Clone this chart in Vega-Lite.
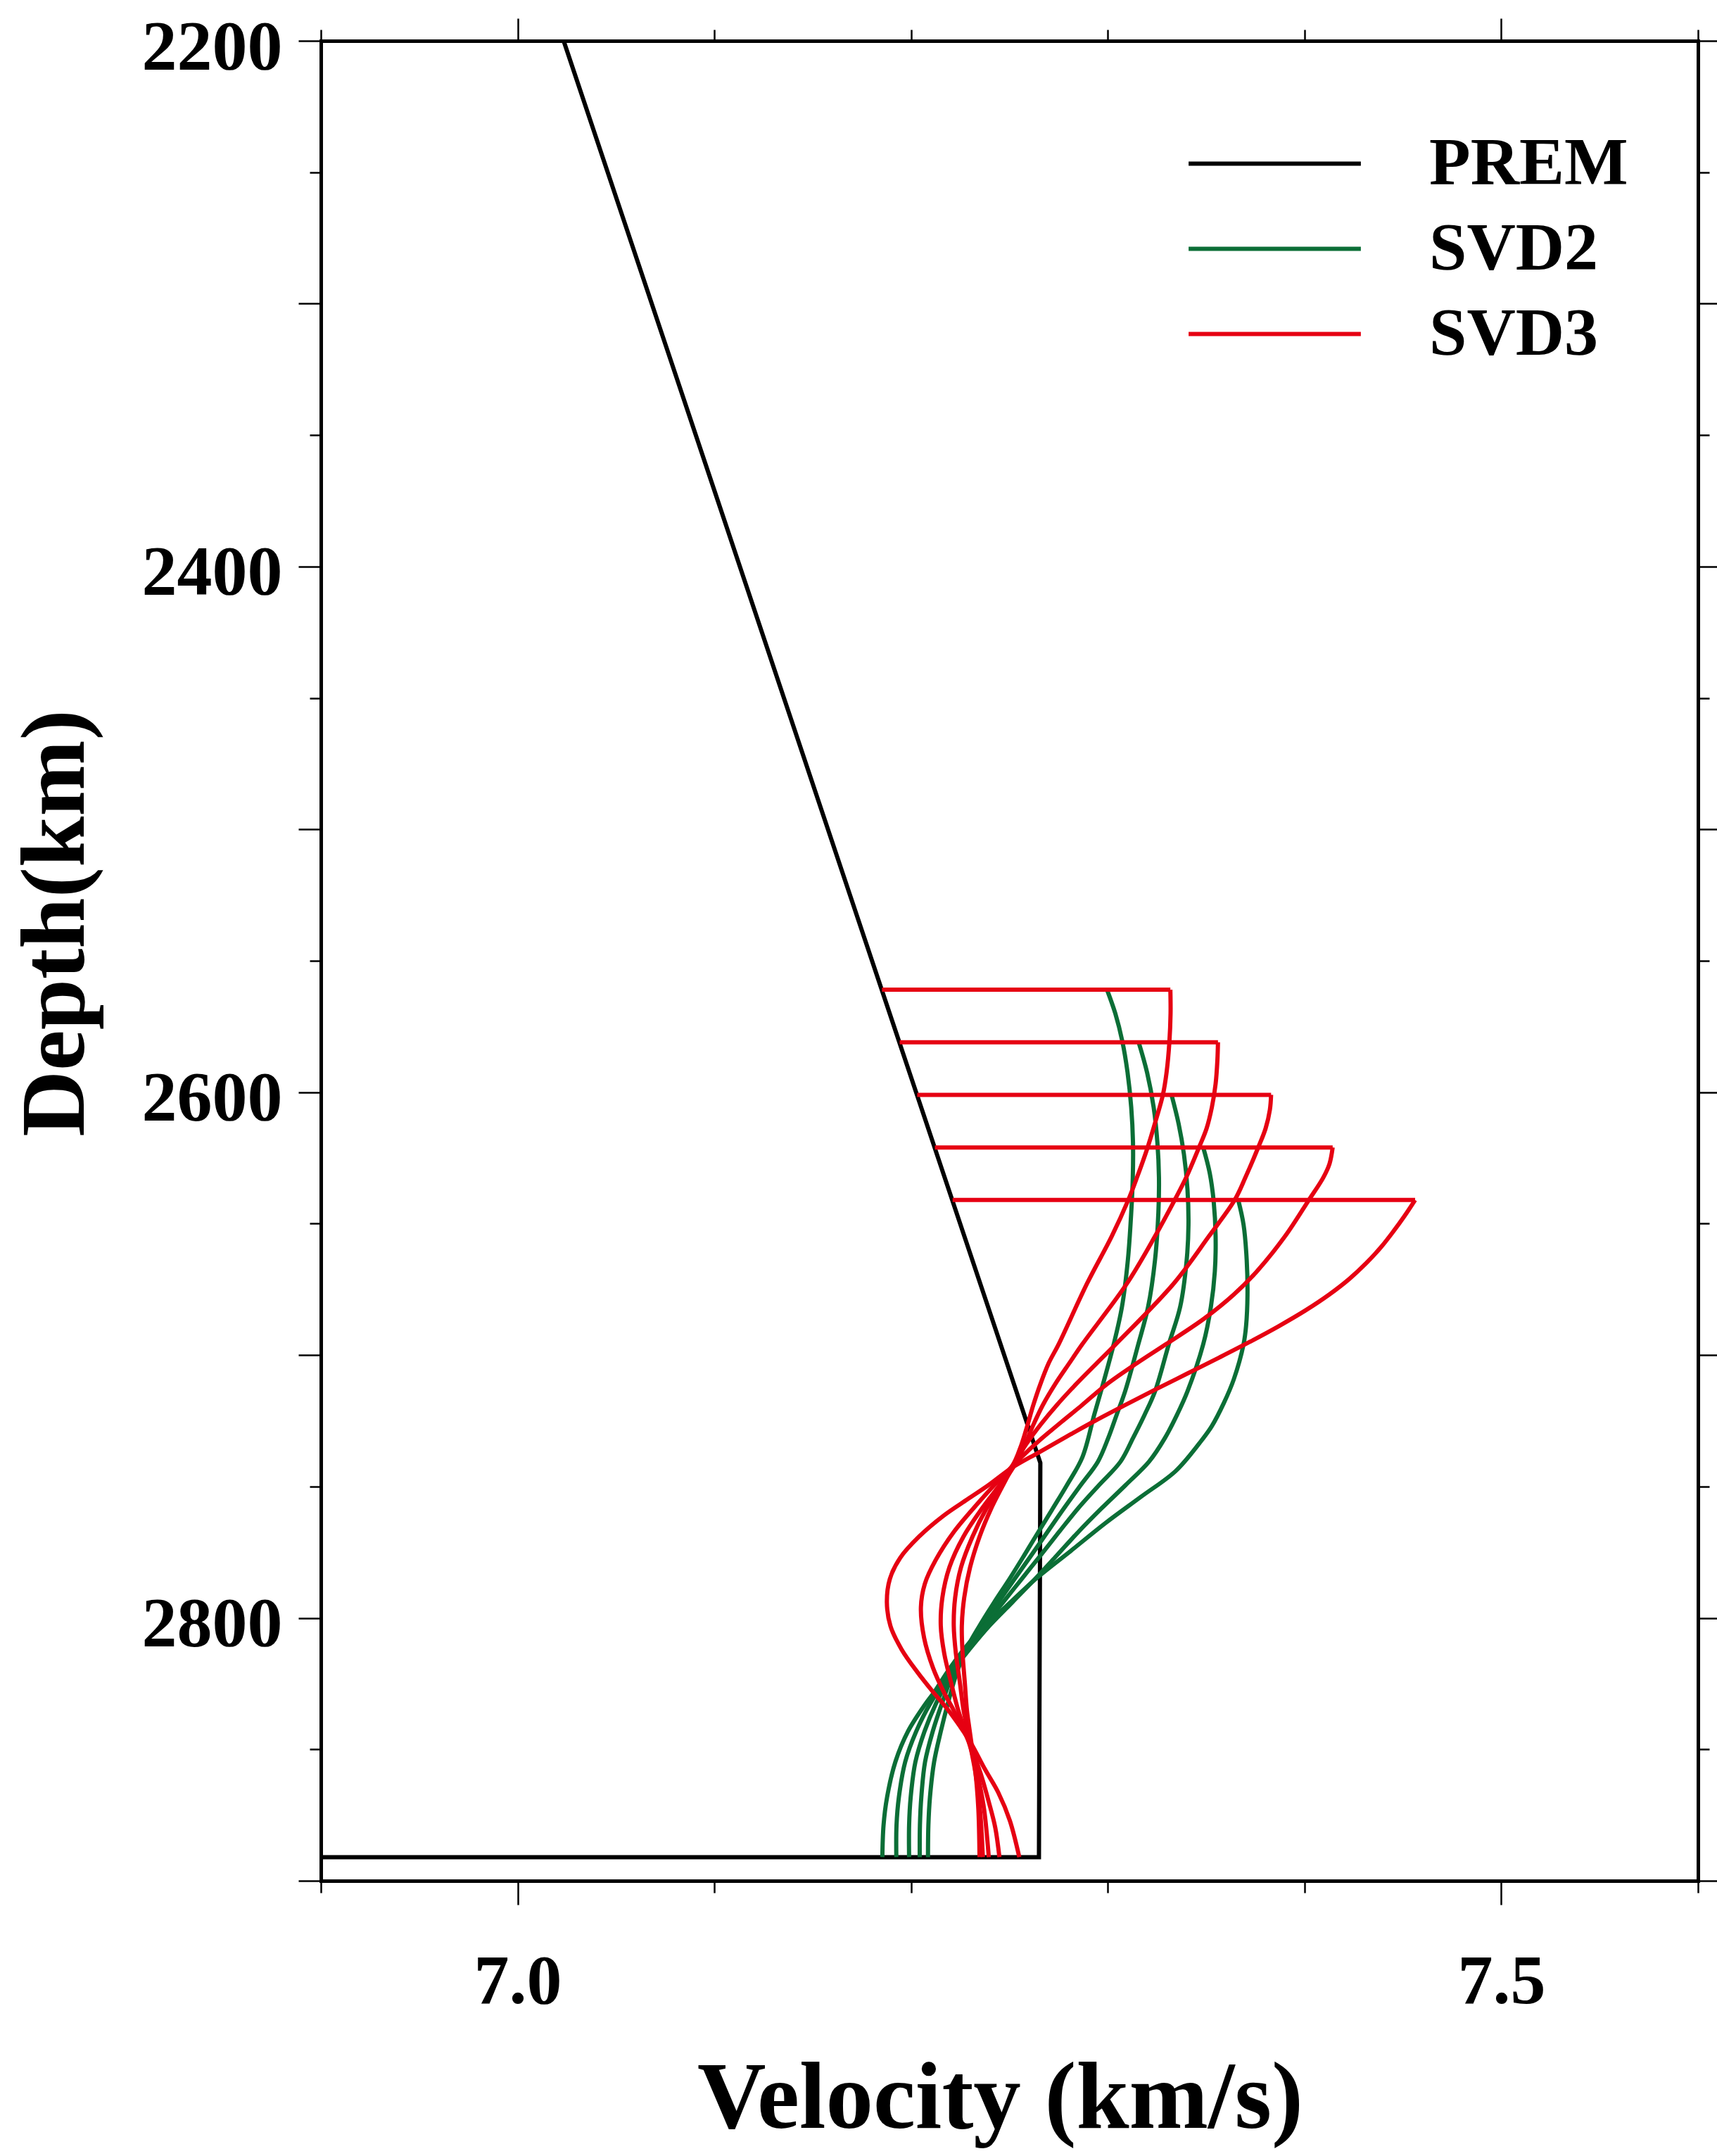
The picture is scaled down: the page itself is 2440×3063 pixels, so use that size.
{
  "$schema": "https://vega.github.io/schema/vega-lite/v6.json",
  "width": 1957,
  "height": 2614,
  "autosize": {"type": "none"},
  "padding": {"left": 456, "top": 58, "right": 27, "bottom": 391},
  "background": "white",
  "config": {
    "view": {"stroke": null},
    "font": "Liberation Serif",
    "line": {"strokeWidth": 6},
    "axis": {
      "grid": false,
      "domainColor": "black",
      "domainWidth": 5,
      "domainCap": "square",
      "tickColor": "black",
      "tickWidth": 2.5,
      "labelFont": "Liberation Serif",
      "labelFontWeight": "bold",
      "labelFontSize": 100,
      "labelColor": "black",
      "labelLimit": 0,
      "titleFont": "Liberation Serif",
      "titleFontWeight": "bold",
      "titleColor": "black",
      "titleLimit": 0,
      "labelOverlap": false,
      "labelFlush": false,
      "labelBound": false
    }
  },
  "data": {
    "values": [
      {"m": "PREM", "c": "p", "i": 0, "v": 7.0234, "d": 2200},
      {"m": "PREM", "c": "p", "i": 1, "v": 7.2657, "d": 2741},
      {"m": "PREM", "c": "p", "i": 2, "v": 7.2650, "d": 2891},
      {"m": "PREM", "c": "p", "i": 3, "v": 6.9, "d": 2891},

      {"m": "SVD2", "c": "g1", "i": 0, "v": 7.2996, "d": 2561},
      {"m": "SVD2", "c": "g1", "i": 1, "v": 7.3038, "d": 2570.0},
      {"m": "SVD2", "c": "g1", "i": 2, "v": 7.3074, "d": 2580.7},
      {"m": "SVD2", "c": "g1", "i": 3, "v": 7.3100, "d": 2592.3},
      {"m": "SVD2", "c": "g1", "i": 4, "v": 7.3119, "d": 2605.7},
      {"m": "SVD2", "c": "g1", "i": 5, "v": 7.3128, "d": 2619.1},
      {"m": "SVD2", "c": "g1", "i": 6, "v": 7.3127, "d": 2632.5},
      {"m": "SVD2", "c": "g1", "i": 7, "v": 7.3119, "d": 2645.9},
      {"m": "SVD2", "c": "g1", "i": 8, "v": 7.3102, "d": 2663.8},
      {"m": "SVD2", "c": "g1", "i": 9, "v": 7.3072, "d": 2681.6},
      {"m": "SVD2", "c": "g1", "i": 10, "v": 7.3030, "d": 2695.9},
      {"m": "SVD2", "c": "g1", "i": 11, "v": 7.2982, "d": 2709.3},
      {"m": "SVD2", "c": "g1", "i": 12, "v": 7.2931, "d": 2722.7},
      {"m": "SVD2", "c": "g1", "i": 13, "v": 7.2871, "d": 2738.8},
      {"m": "SVD2", "c": "g1", "i": 14, "v": 7.2792, "d": 2749.5},
      {"m": "SVD2", "c": "g1", "i": 15, "v": 7.2720, "d": 2758.4},
      {"m": "SVD2", "c": "g1", "i": 16, "v": 7.2647, "d": 2767.3},
      {"m": "SVD2", "c": "g1", "i": 17, "v": 7.2574, "d": 2776.3},
      {"m": "SVD2", "c": "g1", "i": 18, "v": 7.2500, "d": 2785.2},
      {"m": "SVD2", "c": "g1", "i": 19, "v": 7.2422, "d": 2794.1},
      {"m": "SVD2", "c": "g1", "i": 20, "v": 7.2348, "d": 2803.0},
      {"m": "SVD2", "c": "g1", "i": 21, "v": 7.2280, "d": 2812.0},
      {"m": "SVD2", "c": "g1", "i": 22, "v": 7.2232, "d": 2820.9},
      {"m": "SVD2", "c": "g1", "i": 23, "v": 7.2187, "d": 2832.5},
      {"m": "SVD2", "c": "g1", "i": 24, "v": 7.2151, "d": 2843.2},
      {"m": "SVD2", "c": "g1", "i": 25, "v": 7.2117, "d": 2854.8},
      {"m": "SVD2", "c": "g1", "i": 26, "v": 7.2096, "d": 2868.2},
      {"m": "SVD2", "c": "g1", "i": 27, "v": 7.2088, "d": 2878.9},
      {"m": "SVD2", "c": "g1", "i": 28, "v": 7.2086, "d": 2891},

      {"m": "SVD2", "c": "g2", "i": 0, "v": 7.3157, "d": 2581},
      {"m": "SVD2", "c": "g2", "i": 1, "v": 7.3199, "d": 2592.3},
      {"m": "SVD2", "c": "g2", "i": 2, "v": 7.3233, "d": 2605.7},
      {"m": "SVD2", "c": "g2", "i": 3, "v": 7.3252, "d": 2619.1},
      {"m": "SVD2", "c": "g2", "i": 4, "v": 7.3260, "d": 2632.5},
      {"m": "SVD2", "c": "g2", "i": 5, "v": 7.3257, "d": 2645.9},
      {"m": "SVD2", "c": "g2", "i": 6, "v": 7.3240, "d": 2663.8},
      {"m": "SVD2", "c": "g2", "i": 7, "v": 7.3205, "d": 2681.6},
      {"m": "SVD2", "c": "g2", "i": 8, "v": 7.3155, "d": 2695.9},
      {"m": "SVD2", "c": "g2", "i": 9, "v": 7.3088, "d": 2713.8},
      {"m": "SVD2", "c": "g2", "i": 10, "v": 7.3045, "d": 2722.7},
      {"m": "SVD2", "c": "g2", "i": 11, "v": 7.3002, "d": 2731.6},
      {"m": "SVD2", "c": "g2", "i": 12, "v": 7.2950, "d": 2740.5},
      {"m": "SVD2", "c": "g2", "i": 13, "v": 7.2862, "d": 2749.5},
      {"m": "SVD2", "c": "g2", "i": 14, "v": 7.2776, "d": 2758.4},
      {"m": "SVD2", "c": "g2", "i": 15, "v": 7.2693, "d": 2767.3},
      {"m": "SVD2", "c": "g2", "i": 16, "v": 7.2610, "d": 2776.3},
      {"m": "SVD2", "c": "g2", "i": 17, "v": 7.2526, "d": 2785.2},
      {"m": "SVD2", "c": "g2", "i": 18, "v": 7.2443, "d": 2794.1},
      {"m": "SVD2", "c": "g2", "i": 19, "v": 7.2360, "d": 2803.0},
      {"m": "SVD2", "c": "g2", "i": 20, "v": 7.2280, "d": 2812.0},
      {"m": "SVD2", "c": "g2", "i": 21, "v": 7.2220, "d": 2820.0},
      {"m": "SVD2", "c": "g2", "i": 22, "v": 7.2157, "d": 2832.5},
      {"m": "SVD2", "c": "g2", "i": 23, "v": 7.2110, "d": 2843.2},
      {"m": "SVD2", "c": "g2", "i": 24, "v": 7.2071, "d": 2854.8},
      {"m": "SVD2", "c": "g2", "i": 25, "v": 7.2052, "d": 2868.2},
      {"m": "SVD2", "c": "g2", "i": 26, "v": 7.2045, "d": 2878.9},
      {"m": "SVD2", "c": "g2", "i": 27, "v": 7.2044, "d": 2891},

      {"m": "SVD2", "c": "g3", "i": 0, "v": 7.3324, "d": 2601},
      {"m": "SVD2", "c": "g3", "i": 1, "v": 7.3360, "d": 2612.0},
      {"m": "SVD2", "c": "g3", "i": 2, "v": 7.3387, "d": 2623.6},
      {"m": "SVD2", "c": "g3", "i": 3, "v": 7.3405, "d": 2637.0},
      {"m": "SVD2", "c": "g3", "i": 4, "v": 7.3410, "d": 2650.4},
      {"m": "SVD2", "c": "g3", "i": 5, "v": 7.3401, "d": 2663.8},
      {"m": "SVD2", "c": "g3", "i": 6, "v": 7.3368, "d": 2681.6},
      {"m": "SVD2", "c": "g3", "i": 7, "v": 7.3310, "d": 2695.9},
      {"m": "SVD2", "c": "g3", "i": 8, "v": 7.3240, "d": 2713.8},
      {"m": "SVD2", "c": "g3", "i": 9, "v": 7.3187, "d": 2722.7},
      {"m": "SVD2", "c": "g3", "i": 10, "v": 7.3128, "d": 2731.6},
      {"m": "SVD2", "c": "g3", "i": 11, "v": 7.3065, "d": 2740.5},
      {"m": "SVD2", "c": "g3", "i": 12, "v": 7.2955, "d": 2749.5},
      {"m": "SVD2", "c": "g3", "i": 13, "v": 7.2848, "d": 2758.4},
      {"m": "SVD2", "c": "g3", "i": 14, "v": 7.2752, "d": 2767.3},
      {"m": "SVD2", "c": "g3", "i": 15, "v": 7.2657, "d": 2776.3},
      {"m": "SVD2", "c": "g3", "i": 16, "v": 7.2562, "d": 2785.2},
      {"m": "SVD2", "c": "g3", "i": 17, "v": 7.2467, "d": 2794.1},
      {"m": "SVD2", "c": "g3", "i": 18, "v": 7.2371, "d": 2803.0},
      {"m": "SVD2", "c": "g3", "i": 19, "v": 7.2285, "d": 2812.0},
      {"m": "SVD2", "c": "g3", "i": 20, "v": 7.2215, "d": 2820.0},
      {"m": "SVD2", "c": "g3", "i": 21, "v": 7.2127, "d": 2832.5},
      {"m": "SVD2", "c": "g3", "i": 22, "v": 7.2068, "d": 2843.2},
      {"m": "SVD2", "c": "g3", "i": 23, "v": 7.2022, "d": 2854.8},
      {"m": "SVD2", "c": "g3", "i": 24, "v": 7.1998, "d": 2868.2},
      {"m": "SVD2", "c": "g3", "i": 25, "v": 7.1990, "d": 2878.9},
      {"m": "SVD2", "c": "g3", "i": 26, "v": 7.1990, "d": 2891},

      {"m": "SVD2", "c": "g4", "i": 0, "v": 7.3485, "d": 2621},
      {"m": "SVD2", "c": "g4", "i": 1, "v": 7.3518, "d": 2630.7},
      {"m": "SVD2", "c": "g4", "i": 2, "v": 7.3538, "d": 2641.4},
      {"m": "SVD2", "c": "g4", "i": 3, "v": 7.3548, "d": 2654.8},
      {"m": "SVD2", "c": "g4", "i": 4, "v": 7.3544, "d": 2668.2},
      {"m": "SVD2", "c": "g4", "i": 5, "v": 7.3524, "d": 2681.6},
      {"m": "SVD2", "c": "g4", "i": 6, "v": 7.3485, "d": 2695.9},
      {"m": "SVD2", "c": "g4", "i": 7, "v": 7.3405, "d": 2713.8},
      {"m": "SVD2", "c": "g4", "i": 8, "v": 7.3352, "d": 2722.7},
      {"m": "SVD2", "c": "g4", "i": 9, "v": 7.3290, "d": 2731.6},
      {"m": "SVD2", "c": "g4", "i": 10, "v": 7.3210, "d": 2740.5},
      {"m": "SVD2", "c": "g4", "i": 11, "v": 7.3090, "d": 2749.5},
      {"m": "SVD2", "c": "g4", "i": 12, "v": 7.2967, "d": 2758.4},
      {"m": "SVD2", "c": "g4", "i": 13, "v": 7.2850, "d": 2767.3},
      {"m": "SVD2", "c": "g4", "i": 14, "v": 7.2740, "d": 2776.3},
      {"m": "SVD2", "c": "g4", "i": 15, "v": 7.2630, "d": 2785.2},
      {"m": "SVD2", "c": "g4", "i": 16, "v": 7.2514, "d": 2794.1},
      {"m": "SVD2", "c": "g4", "i": 17, "v": 7.2398, "d": 2803.0},
      {"m": "SVD2", "c": "g4", "i": 18, "v": 7.2296, "d": 2812.0},
      {"m": "SVD2", "c": "g4", "i": 19, "v": 7.2212, "d": 2820.0},
      {"m": "SVD2", "c": "g4", "i": 20, "v": 7.2098, "d": 2832.5},
      {"m": "SVD2", "c": "g4", "i": 21, "v": 7.2026, "d": 2843.2},
      {"m": "SVD2", "c": "g4", "i": 22, "v": 7.1970, "d": 2854.8},
      {"m": "SVD2", "c": "g4", "i": 23, "v": 7.1938, "d": 2868.2},
      {"m": "SVD2", "c": "g4", "i": 24, "v": 7.1926, "d": 2878.9},
      {"m": "SVD2", "c": "g4", "i": 25, "v": 7.1925, "d": 2891},

      {"m": "SVD2", "c": "g5", "i": 0, "v": 7.3663, "d": 2641},
      {"m": "SVD2", "c": "g5", "i": 1, "v": 7.3690, "d": 2650.4},
      {"m": "SVD2", "c": "g5", "i": 2, "v": 7.3706, "d": 2663.8},
      {"m": "SVD2", "c": "g5", "i": 3, "v": 7.3710, "d": 2677.2},
      {"m": "SVD2", "c": "g5", "i": 4, "v": 7.3703, "d": 2688.8},
      {"m": "SVD2", "c": "g5", "i": 5, "v": 7.3690, "d": 2695.9},
      {"m": "SVD2", "c": "g5", "i": 6, "v": 7.3640, "d": 2709.3},
      {"m": "SVD2", "c": "g5", "i": 7, "v": 7.3590, "d": 2718.2},
      {"m": "SVD2", "c": "g5", "i": 8, "v": 7.3528, "d": 2727.1},
      {"m": "SVD2", "c": "g5", "i": 9, "v": 7.3467, "d": 2733.4},
      {"m": "SVD2", "c": "g5", "i": 10, "v": 7.3345, "d": 2744.1},
      {"m": "SVD2", "c": "g5", "i": 11, "v": 7.3169, "d": 2753.9},
      {"m": "SVD2", "c": "g5", "i": 12, "v": 7.2990, "d": 2763.8},
      {"m": "SVD2", "c": "g5", "i": 13, "v": 7.2812, "d": 2774.5},
      {"m": "SVD2", "c": "g5", "i": 14, "v": 7.2633, "d": 2785.2},
      {"m": "SVD2", "c": "g5", "i": 15, "v": 7.2479, "d": 2795.9},
      {"m": "SVD2", "c": "g5", "i": 16, "v": 7.2350, "d": 2804.8},
      {"m": "SVD2", "c": "g5", "i": 17, "v": 7.2258, "d": 2812.9},
      {"m": "SVD2", "c": "g5", "i": 18, "v": 7.2181, "d": 2820.9},
      {"m": "SVD2", "c": "g5", "i": 19, "v": 7.2120, "d": 2828.0},
      {"m": "SVD2", "c": "g5", "i": 20, "v": 7.2075, "d": 2832.5},
      {"m": "SVD2", "c": "g5", "i": 21, "v": 7.1984, "d": 2843.2},
      {"m": "SVD2", "c": "g5", "i": 22, "v": 7.1920, "d": 2854.8},
      {"m": "SVD2", "c": "g5", "i": 23, "v": 7.1878, "d": 2868.2},
      {"m": "SVD2", "c": "g5", "i": 24, "v": 7.1860, "d": 2878.9},
      {"m": "SVD2", "c": "g5", "i": 25, "v": 7.1854, "d": 2891},

      {"m": "SVD3", "c": "r1j", "i": 0, "v": 7.1852, "d": 2561},
      {"m": "SVD3", "c": "r1j", "i": 1, "v": 7.3318, "d": 2561},
      {"m": "SVD3", "c": "r1", "i": 0, "v": 7.3318, "d": 2561},
      {"m": "SVD3", "c": "r1", "i": 1, "v": 7.3319, "d": 2570.0},
      {"m": "SVD3", "c": "r1", "i": 2, "v": 7.3313, "d": 2580.9},
      {"m": "SVD3", "c": "r1", "i": 3, "v": 7.3299, "d": 2592.3},
      {"m": "SVD3", "c": "r1", "i": 4, "v": 7.3280, "d": 2601.0},
      {"m": "SVD3", "c": "r1", "i": 5, "v": 7.3246, "d": 2610.2},
      {"m": "SVD3", "c": "r1", "i": 6, "v": 7.3202, "d": 2621.1},
      {"m": "SVD3", "c": "r1", "i": 7, "v": 7.3148, "d": 2632.5},
      {"m": "SVD3", "c": "r1", "i": 8, "v": 7.3104, "d": 2641.0},
      {"m": "SVD3", "c": "r1", "i": 9, "v": 7.3020, "d": 2654.8},
      {"m": "SVD3", "c": "r1", "i": 10, "v": 7.2895, "d": 2672.7},
      {"m": "SVD3", "c": "r1", "i": 11, "v": 7.2750, "d": 2695.9},
      {"m": "SVD3", "c": "r1", "i": 12, "v": 7.2700, "d": 2703.0},
      {"m": "SVD3", "c": "r1", "i": 13, "v": 7.2657, "d": 2711.1},
      {"m": "SVD3", "c": "r1", "i": 14, "v": 7.2621, "d": 2719.1},
      {"m": "SVD3", "c": "r1", "i": 15, "v": 7.2590, "d": 2727.1},
      {"m": "SVD3", "c": "r1", "i": 16, "v": 7.2560, "d": 2734.3},
      {"m": "SVD3", "c": "r1", "i": 17, "v": 7.2522, "d": 2741.4},
      {"m": "SVD3", "c": "r1", "i": 18, "v": 7.2407, "d": 2758.4},
      {"m": "SVD3", "c": "r1", "i": 19, "v": 7.2348, "d": 2769.1},
      {"m": "SVD3", "c": "r1", "i": 20, "v": 7.2300, "d": 2780.7},
      {"m": "SVD3", "c": "r1", "i": 21, "v": 7.2270, "d": 2792.3},
      {"m": "SVD3", "c": "r1", "i": 22, "v": 7.2258, "d": 2803.0},
      {"m": "SVD3", "c": "r1", "i": 23, "v": 7.2262, "d": 2813.7},
      {"m": "SVD3", "c": "r1", "i": 24, "v": 7.2273, "d": 2824.5},
      {"m": "SVD3", "c": "r1", "i": 25, "v": 7.2284, "d": 2835.2},
      {"m": "SVD3", "c": "r1", "i": 26, "v": 7.2295, "d": 2841.4},
      {"m": "SVD3", "c": "r1", "i": 27, "v": 7.2312, "d": 2850.4},
      {"m": "SVD3", "c": "r1", "i": 28, "v": 7.2328, "d": 2859.3},
      {"m": "SVD3", "c": "r1", "i": 29, "v": 7.2342, "d": 2872.7},
      {"m": "SVD3", "c": "r1", "i": 30, "v": 7.2348, "d": 2891},

      {"m": "SVD3", "c": "r2j", "i": 0, "v": 7.1942, "d": 2581},
      {"m": "SVD3", "c": "r2j", "i": 1, "v": 7.3560, "d": 2581},
      {"m": "SVD3", "c": "r2", "i": 0, "v": 7.3560, "d": 2581},
      {"m": "SVD3", "c": "r2", "i": 1, "v": 7.3557, "d": 2587.9},
      {"m": "SVD3", "c": "r2", "i": 2, "v": 7.3548, "d": 2596.8},
      {"m": "SVD3", "c": "r2", "i": 3, "v": 7.3529, "d": 2605.7},
      {"m": "SVD3", "c": "r2", "i": 4, "v": 7.3502, "d": 2613.8},
      {"m": "SVD3", "c": "r2", "i": 5, "v": 7.3463, "d": 2621.1},
      {"m": "SVD3", "c": "r2", "i": 6, "v": 7.3398, "d": 2632.5},
      {"m": "SVD3", "c": "r2", "i": 7, "v": 7.3340, "d": 2641.0},
      {"m": "SVD3", "c": "r2", "i": 8, "v": 7.3240, "d": 2654.8},
      {"m": "SVD3", "c": "r2", "i": 9, "v": 7.3098, "d": 2672.7},
      {"m": "SVD3", "c": "r2", "i": 10, "v": 7.2870, "d": 2695.9},
      {"m": "SVD3", "c": "r2", "i": 11, "v": 7.2805, "d": 2703.0},
      {"m": "SVD3", "c": "r2", "i": 12, "v": 7.2732, "d": 2711.1},
      {"m": "SVD3", "c": "r2", "i": 13, "v": 7.2669, "d": 2719.1},
      {"m": "SVD3", "c": "r2", "i": 14, "v": 7.2618, "d": 2727.1},
      {"m": "SVD3", "c": "r2", "i": 15, "v": 7.2572, "d": 2735.2},
      {"m": "SVD3", "c": "r2", "i": 16, "v": 7.2530, "d": 2741.4},
      {"m": "SVD3", "c": "r2", "i": 17, "v": 7.2383, "d": 2758.4},
      {"m": "SVD3", "c": "r2", "i": 18, "v": 7.2312, "d": 2769.1},
      {"m": "SVD3", "c": "r2", "i": 19, "v": 7.2254, "d": 2780.7},
      {"m": "SVD3", "c": "r2", "i": 20, "v": 7.2224, "d": 2792.3},
      {"m": "SVD3", "c": "r2", "i": 21, "v": 7.2217, "d": 2803.0},
      {"m": "SVD3", "c": "r2", "i": 22, "v": 7.2228, "d": 2813.7},
      {"m": "SVD3", "c": "r2", "i": 23, "v": 7.2248, "d": 2824.5},
      {"m": "SVD3", "c": "r2", "i": 24, "v": 7.2267, "d": 2835.2},
      {"m": "SVD3", "c": "r2", "i": 25, "v": 7.2284, "d": 2841.4},
      {"m": "SVD3", "c": "r2", "i": 26, "v": 7.2306, "d": 2850.4},
      {"m": "SVD3", "c": "r2", "i": 27, "v": 7.2328, "d": 2859.3},
      {"m": "SVD3", "c": "r2", "i": 28, "v": 7.2350, "d": 2872.7},
      {"m": "SVD3", "c": "r2", "i": 29, "v": 7.2365, "d": 2891},

      {"m": "SVD3", "c": "r3j", "i": 0, "v": 7.2031, "d": 2601},
      {"m": "SVD3", "c": "r3j", "i": 1, "v": 7.3830, "d": 2601},
      {"m": "SVD3", "c": "r3", "i": 0, "v": 7.3830, "d": 2601},
      {"m": "SVD3", "c": "r3", "i": 1, "v": 7.3824, "d": 2606.6},
      {"m": "SVD3", "c": "r3", "i": 2, "v": 7.3802, "d": 2613.8},
      {"m": "SVD3", "c": "r3", "i": 3, "v": 7.3764, "d": 2621.1},
      {"m": "SVD3", "c": "r3", "i": 4, "v": 7.3699, "d": 2632.5},
      {"m": "SVD3", "c": "r3", "i": 5, "v": 7.3645, "d": 2641.0},
      {"m": "SVD3", "c": "r3", "i": 6, "v": 7.3514, "d": 2654.8},
      {"m": "SVD3", "c": "r3", "i": 7, "v": 7.3336, "d": 2672.7},
      {"m": "SVD3", "c": "r3", "i": 8, "v": 7.3040, "d": 2695.9},
      {"m": "SVD3", "c": "r3", "i": 9, "v": 7.2945, "d": 2703.0},
      {"m": "SVD3", "c": "r3", "i": 10, "v": 7.2838, "d": 2711.1},
      {"m": "SVD3", "c": "r3", "i": 11, "v": 7.2740, "d": 2719.1},
      {"m": "SVD3", "c": "r3", "i": 12, "v": 7.2660, "d": 2726.3},
      {"m": "SVD3", "c": "r3", "i": 13, "v": 7.2598, "d": 2732.5},
      {"m": "SVD3", "c": "r3", "i": 14, "v": 7.2535, "d": 2739.6},
      {"m": "SVD3", "c": "r3", "i": 15, "v": 7.2467, "d": 2747.7},
      {"m": "SVD3", "c": "r3", "i": 16, "v": 7.2360, "d": 2758.4},
      {"m": "SVD3", "c": "r3", "i": 17, "v": 7.2266, "d": 2769.1},
      {"m": "SVD3", "c": "r3", "i": 18, "v": 7.2195, "d": 2780.7},
      {"m": "SVD3", "c": "r3", "i": 19, "v": 7.2159, "d": 2792.3},
      {"m": "SVD3", "c": "r3", "i": 20, "v": 7.2151, "d": 2803.0},
      {"m": "SVD3", "c": "r3", "i": 21, "v": 7.2169, "d": 2813.7},
      {"m": "SVD3", "c": "r3", "i": 22, "v": 7.2203, "d": 2824.5},
      {"m": "SVD3", "c": "r3", "i": 23, "v": 7.2240, "d": 2835.2},
      {"m": "SVD3", "c": "r3", "i": 24, "v": 7.2268, "d": 2841.4},
      {"m": "SVD3", "c": "r3", "i": 25, "v": 7.2306, "d": 2850.4},
      {"m": "SVD3", "c": "r3", "i": 26, "v": 7.2342, "d": 2861.1},
      {"m": "SVD3", "c": "r3", "i": 27, "v": 7.2371, "d": 2872.7},
      {"m": "SVD3", "c": "r3", "i": 28, "v": 7.2395, "d": 2891},

      {"m": "SVD3", "c": "r4j", "i": 0, "v": 7.2121, "d": 2621},
      {"m": "SVD3", "c": "r4j", "i": 1, "v": 7.4143, "d": 2621},
      {"m": "SVD3", "c": "r4", "i": 0, "v": 7.4143, "d": 2621},
      {"m": "SVD3", "c": "r4", "i": 1, "v": 7.4127, "d": 2627.2},
      {"m": "SVD3", "c": "r4", "i": 2, "v": 7.4095, "d": 2632.5},
      {"m": "SVD3", "c": "r4", "i": 3, "v": 7.4022, "d": 2641.0},
      {"m": "SVD3", "c": "r4", "i": 4, "v": 7.3901, "d": 2654.8},
      {"m": "SVD3", "c": "r4", "i": 5, "v": 7.3757, "d": 2668.2},
      {"m": "SVD3", "c": "r4", "i": 6, "v": 7.3640, "d": 2677.0},
      {"m": "SVD3", "c": "r4", "i": 7, "v": 7.3490, "d": 2686.1},
      {"m": "SVD3", "c": "r4", "i": 8, "v": 7.3295, "d": 2695.9},
      {"m": "SVD3", "c": "r4", "i": 9, "v": 7.3150, "d": 2703.0},
      {"m": "SVD3", "c": "r4", "i": 10, "v": 7.2995, "d": 2711.1},
      {"m": "SVD3", "c": "r4", "i": 11, "v": 7.2868, "d": 2719.1},
      {"m": "SVD3", "c": "r4", "i": 12, "v": 7.2765, "d": 2725.4},
      {"m": "SVD3", "c": "r4", "i": 13, "v": 7.2652, "d": 2732.5},
      {"m": "SVD3", "c": "r4", "i": 14, "v": 7.2550, "d": 2739.6},
      {"m": "SVD3", "c": "r4", "i": 15, "v": 7.2445, "d": 2747.7},
      {"m": "SVD3", "c": "r4", "i": 16, "v": 7.2337, "d": 2756.6},
      {"m": "SVD3", "c": "r4", "i": 17, "v": 7.2217, "d": 2767.3},
      {"m": "SVD3", "c": "r4", "i": 18, "v": 7.2125, "d": 2778.0},
      {"m": "SVD3", "c": "r4", "i": 19, "v": 7.2070, "d": 2787.0},
      {"m": "SVD3", "c": "r4", "i": 20, "v": 7.2050, "d": 2795.9},
      {"m": "SVD3", "c": "r4", "i": 21, "v": 7.2066, "d": 2807.5},
      {"m": "SVD3", "c": "r4", "i": 22, "v": 7.2112, "d": 2819.1},
      {"m": "SVD3", "c": "r4", "i": 23, "v": 7.2165, "d": 2828.0},
      {"m": "SVD3", "c": "r4", "i": 24, "v": 7.2217, "d": 2835.2},
      {"m": "SVD3", "c": "r4", "i": 25, "v": 7.2270, "d": 2843.2},
      {"m": "SVD3", "c": "r4", "i": 26, "v": 7.2312, "d": 2850.4},
      {"m": "SVD3", "c": "r4", "i": 27, "v": 7.2354, "d": 2859.3},
      {"m": "SVD3", "c": "r4", "i": 28, "v": 7.2395, "d": 2870.0},
      {"m": "SVD3", "c": "r4", "i": 29, "v": 7.2428, "d": 2879.8},
      {"m": "SVD3", "c": "r4", "i": 30, "v": 7.2449, "d": 2891},

      {"m": "SVD3", "c": "r5j", "i": 0, "v": 7.2211, "d": 2641},
      {"m": "SVD3", "c": "r5j", "i": 1, "v": 7.4562, "d": 2641},
      {"m": "SVD3", "c": "r5", "i": 0, "v": 7.4562, "d": 2641},
      {"m": "SVD3", "c": "r5", "i": 1, "v": 7.4509, "d": 2647},
      {"m": "SVD3", "c": "r5", "i": 2, "v": 7.4451, "d": 2653},
      {"m": "SVD3", "c": "r5", "i": 3, "v": 7.4388, "d": 2659},
      {"m": "SVD3", "c": "r5", "i": 4, "v": 7.4314, "d": 2665},
      {"m": "SVD3", "c": "r5", "i": 5, "v": 7.4228, "d": 2671},
      {"m": "SVD3", "c": "r5", "i": 6, "v": 7.4125, "d": 2677},
      {"m": "SVD3", "c": "r5", "i": 7, "v": 7.4005, "d": 2683},
      {"m": "SVD3", "c": "r5", "i": 8, "v": 7.3869, "d": 2689},
      {"m": "SVD3", "c": "r5", "i": 9, "v": 7.3721, "d": 2695},
      {"m": "SVD3", "c": "r5", "i": 10, "v": 7.3565, "d": 2701},
      {"m": "SVD3", "c": "r5", "i": 11, "v": 7.3405, "d": 2707},
      {"m": "SVD3", "c": "r5", "i": 12, "v": 7.3245, "d": 2713},
      {"m": "SVD3", "c": "r5", "i": 13, "v": 7.3088, "d": 2719},
      {"m": "SVD3", "c": "r5", "i": 14, "v": 7.2935, "d": 2725},
      {"m": "SVD3", "c": "r5", "i": 15, "v": 7.2791, "d": 2731},
      {"m": "SVD3", "c": "r5", "i": 16, "v": 7.2650, "d": 2737},
      {"m": "SVD3", "c": "r5", "i": 17, "v": 7.2510, "d": 2743},
      {"m": "SVD3", "c": "r5", "i": 18, "v": 7.2393, "d": 2749.5},
      {"m": "SVD3", "c": "r5", "i": 19, "v": 7.2288, "d": 2754.8},
      {"m": "SVD3", "c": "r5", "i": 20, "v": 7.2165, "d": 2761.1},
      {"m": "SVD3", "c": "r5", "i": 21, "v": 7.2040, "d": 2769.1},
      {"m": "SVD3", "c": "r5", "i": 22, "v": 7.1945, "d": 2777.1},
      {"m": "SVD3", "c": "r5", "i": 23, "v": 7.1892, "d": 2785.2},
      {"m": "SVD3", "c": "r5", "i": 24, "v": 7.1877, "d": 2794.1},
      {"m": "SVD3", "c": "r5", "i": 25, "v": 7.1895, "d": 2803.0},
      {"m": "SVD3", "c": "r5", "i": 26, "v": 7.1952, "d": 2812.0},
      {"m": "SVD3", "c": "r5", "i": 27, "v": 7.2035, "d": 2820.9},
      {"m": "SVD3", "c": "r5", "i": 28, "v": 7.2110, "d": 2828.0},
      {"m": "SVD3", "c": "r5", "i": 29, "v": 7.2181, "d": 2834.3},
      {"m": "SVD3", "c": "r5", "i": 30, "v": 7.2250, "d": 2841.4},
      {"m": "SVD3", "c": "r5", "i": 31, "v": 7.2305, "d": 2847.7},
      {"m": "SVD3", "c": "r5", "i": 32, "v": 7.2375, "d": 2857.5},
      {"m": "SVD3", "c": "r5", "i": 33, "v": 7.2443, "d": 2866.4},
      {"m": "SVD3", "c": "r5", "i": 34, "v": 7.2502, "d": 2877.1},
      {"m": "SVD3", "c": "r5", "i": 35, "v": 7.2550, "d": 2891}
    ]
  },
  "encoding": {
    "color": {
      "field": "m",
      "type": "nominal",
      "scale": {"domain": ["PREM", "SVD2", "SVD3"], "range": ["#000000", "#0b6e36", "#e60012"]},
      "legend": {
        "orient": "none",
        "legendX": 1291,
        "legendY": 110,
        "title": null,
        "symbolType": "M-1.99,0H1.99",
        "symbolSize": 15129,
        "symbolStrokeWidth": 12,
        "labelFont": "Liberation Serif",
        "labelFontWeight": "bold",
        "labelFontSize": 96,
        "labelColor": "black",
        "labelOffset": 155,
        "labelLimit": 0,
        "rowPadding": 8,
        "padding": 0
      }
    },
    "detail": {"field": "c", "type": "nominal"},
    "order": {"field": "i", "type": "quantitative"}
  },
  "layer": [
    {
      "transform": [{"filter": "datum.m === 'PREM'"}],
      "mark": {"type": "line", "strokeJoin": "miter", "strokeWidth": 6},
      "encoding": {
        "x": {
          "field": "v",
          "type": "quantitative",
          "scale": {"domain": [6.9, 7.6], "nice": false, "zero": false},
          "axis": {
            "orient": "top",
            "values": [6.9, 7.0, 7.1, 7.2, 7.3, 7.4, 7.5, 7.6],
            "labels": false,
            "title": null,
            "tickSize": {"condition": {"test": "abs(datum.value * 2 - round(datum.value * 2)) < 0.000001", "value": 32}, "value": 16}
          }
        },
        "y": {
          "field": "d",
          "type": "quantitative",
          "scale": {"domain": [2200, 2900], "reverse": true, "nice": false, "zero": false},
          "axis": {
            "orient": "right",
            "values": [2200, 2250, 2300, 2350, 2400, 2450, 2500, 2550, 2600, 2650, 2700, 2750, 2800, 2850, 2900],
            "labels": false,
            "title": null,
            "tickSize": {"condition": {"test": "datum.value % 100 === 0", "value": 32}, "value": 16}
          }
        }
      }
    },
    {
      "transform": [{"filter": "datum.m !== 'PREM'"}],
      "mark": {"type": "line", "strokeJoin": "miter", "interpolate": "catmull-rom", "strokeWidth": 6},
      "encoding": {
        "x": {
          "field": "v",
          "type": "quantitative",
          "scale": {"domain": [6.9, 7.6], "nice": false, "zero": false},
          "axis": {
            "orient": "bottom",
            "values": [6.9, 7.0, 7.1, 7.2, 7.3, 7.4, 7.5, 7.6],
            "labelExpr": "abs(datum.value * 2 - round(datum.value * 2)) < 0.000001 ? format(datum.value, '.1f') : ''",
            "tickSize": {"condition": {"test": "abs(datum.value * 2 - round(datum.value * 2)) < 0.000001", "value": 34}, "value": 17},
            "labelPadding": 60,
            "title": "Velocity (km/s)",
            "titleFontSize": 135,
            "titleX": 965,
            "titleY": 350,
            "titleAlign": "center",
            "titleBaseline": "alphabetic"
          }
        },
        "y": {
          "field": "d",
          "type": "quantitative",
          "scale": {"domain": [2200, 2900], "reverse": true, "nice": false, "zero": false},
          "axis": {
            "orient": "left",
            "values": [2200, 2250, 2300, 2350, 2400, 2450, 2500, 2550, 2600, 2650, 2700, 2750, 2800, 2850, 2900],
            "labelExpr": "datum.value % 200 === 0 ? format(datum.value, 'd') : ''",
            "tickSize": {"condition": {"test": "datum.value % 100 === 0", "value": 32}, "value": 16},
            "labelPadding": 23,
            "labelOffset": 9,
            "title": "Depth(km)",
            "titleFontSize": 130,
            "titleX": -338,
            "titleY": 1253,
            "titleAngle": 270,
            "titleAlign": "center",
            "titleBaseline": "alphabetic"
          }
        }
      }
    }
  ],
  "resolve": {"axis": {"x": "independent", "y": "independent"}}
}
